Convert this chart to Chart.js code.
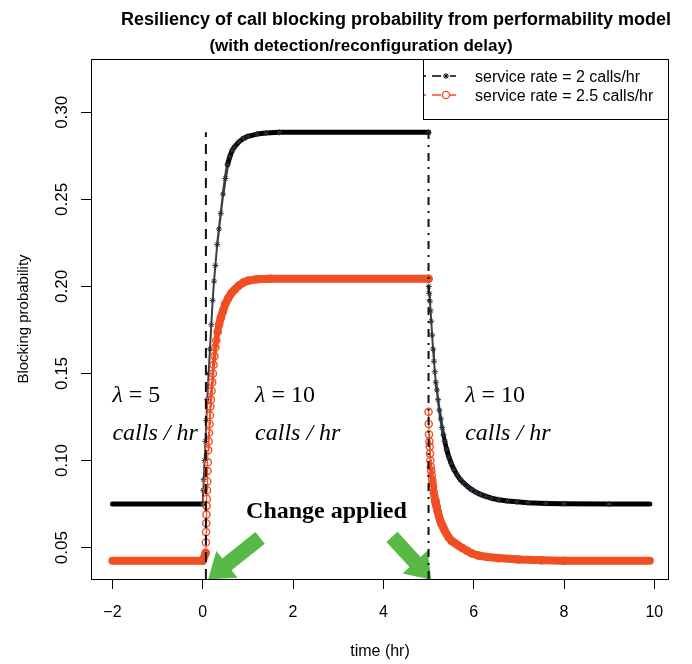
<!DOCTYPE html>
<html>
<head>
<meta charset="utf-8">
<title>Resiliency of call blocking probability</title>
<script src="https://cdn.jsdelivr.net/npm/chart.js@4.4.0/dist/chart.umd.min.js"></script>
<style>
  html, body { margin: 0; padding: 0; background: #fff; }
  #wrap { width: 692px; height: 664px; }
</style>
</head>
<body>
<div id="wrap"><canvas id="chart" width="692" height="664"></canvas></div>
<script>
// service rate = 2 calls/hr
const timeRate2 = [-2, -1.5, -1, -0.5, 0,
  0.01, 0.02, 0.04, 0.06, 0.08, 0.10, 0.13, 0.16, 0.19, 0.22, 0.25, 0.28,
  0.32, 0.36, 0.40, 0.45, 0.50, 0.55, 0.60, 0.65, 0.70,
  0.80, 0.90, 1.00, 1.20, 1.40, 1.70, 2.5, 3.5, 4.5, 5.0,
  5.005, 5.015, 5.03, 5.045, 5.06, 5.08, 5.10, 5.12, 5.14, 5.16, 5.185, 5.21,
  5.24, 5.27, 5.30, 5.33, 5.36, 5.40, 5.45, 5.50, 5.56, 5.63, 5.70, 5.78, 5.87, 5.95,
  6.05, 6.15, 6.27, 6.39, 6.55, 6.75, 6.95, 7.2, 7.6, 8.0, 9.0, 9.9];
const blockRate2 = [0.075, 0.075, 0.075, 0.075, 0.075,
  0.083, 0.089, 0.100, 0.111, 0.123, 0.135, 0.150, 0.164, 0.178, 0.192, 0.203, 0.212,
  0.224, 0.233, 0.242, 0.253, 0.262, 0.270, 0.2745, 0.278, 0.280,
  0.283, 0.285, 0.2862, 0.2875, 0.2881, 0.2885, 0.2885, 0.2885, 0.2885, 0.2885,
  0.200, 0.196, 0.1915, 0.186, 0.180, 0.172, 0.164, 0.157, 0.151, 0.145, 0.1405, 0.135,
  0.129, 0.124, 0.119, 0.1148, 0.111, 0.1065, 0.102, 0.0985, 0.095, 0.0918, 0.0892, 0.087, 0.085, 0.0834,
  0.0818, 0.0806, 0.0794, 0.0784, 0.0775, 0.0768, 0.0763, 0.0758, 0.0754, 0.0752, 0.075, 0.075];

// service rate = 2.5 calls/hr
const timeRate25 = [-2, -1.5, -1, -0.5, 0,
  0.066, 0.070, 0.074, 0.078, 0.082, 0.086, 0.090, 0.095, 0.100, 0.106, 0.112, 0.120,
  0.130, 0.140, 0.150, 0.160, 0.170, 0.180, 0.195, 0.21, 0.225, 0.24, 0.26, 0.28, 0.30,
  0.33, 0.36, 0.40, 0.45, 0.50, 0.56, 0.63, 0.70, 0.80, 0.90, 1.00, 1.20, 1.50,
  2.5, 3.5, 4.5, 5.0,
  5.0, 5.004, 5.010, 5.018, 5.025, 5.032, 5.040, 5.050, 5.060, 5.070, 5.080, 5.090, 5.100,
  5.115, 5.130, 5.145, 5.160, 5.180, 5.20, 5.23, 5.26, 5.29, 5.32, 5.36, 5.40, 5.45, 5.51, 5.58,
  5.66, 5.75, 5.85, 5.95, 6.10, 6.30, 6.54, 7.00, 7.50, 8.00, 9.00, 9.90];
const blockRate25 = [0.0425, 0.0425, 0.0425, 0.0425, 0.0425,
  0.047, 0.053, 0.059, 0.064, 0.069, 0.074, 0.078, 0.083, 0.088, 0.094, 0.099, 0.106,
  0.111, 0.116, 0.121, 0.126, 0.131, 0.135, 0.140, 0.145, 0.150, 0.155, 0.160, 0.165, 0.169,
  0.174, 0.178, 0.182, 0.186, 0.190, 0.193, 0.196, 0.198, 0.2005, 0.2023, 0.2033, 0.2041, 0.2044,
  0.2044, 0.2044, 0.2044, 0.2044,
  0.128, 0.121, 0.115, 0.111, 0.108, 0.104, 0.100, 0.0965, 0.094, 0.0915, 0.089, 0.087, 0.085,
  0.082, 0.0795, 0.077, 0.0755, 0.0735, 0.071, 0.068, 0.0655, 0.0635, 0.062, 0.0597, 0.0578, 0.0557, 0.0539, 0.0527,
  0.0512, 0.0498, 0.0482, 0.0468, 0.0455, 0.0446, 0.044, 0.0432, 0.0428, 0.0425, 0.0425, 0.0425];

const xTicks = [-2, 0, 2, 4, 6, 8, 10];
const yTicks = [0.05, 0.10, 0.15, 0.20, 0.25, 0.30];

// moments the new arrival rate is applied, drawn up to the upper plateau
const changeTimes = [0.07, 5];
const changeTop = 0.2885;

// arrival rate for each interval, labels anchored in data units
const arrivalRates = ['5', '10', '10'];
const rateLabelX = [-2.0, 1.16, 5.81];
const rateLabelY = [0.1336, 0.1118];

const X_MIN = -2.474, X_MAX = 10.324;
const Y_MIN = 0.032, Y_MAX = 0.3306;

const RED = '#f04e23';
const GREEN = '#58b947';
const SANS = "'Liberation Sans', Arial, sans-serif";
const SERIF = "'Liberation Serif', 'Times New Roman', serif";

function toPoints(xs, ys) {
  return xs.map((x, i) => ({ x: x, y: ys[i] }));
}

// markers sitting on a flat stretch are hidden by the thick band anyway
function onFlat(ys, i) {
  const p = ys[i - 1], n = ys[i + 1];
  return (p === undefined || p === ys[i]) && (n === undefined || n === ys[i]);
}

function slope(ctx) {
  const dx = Math.abs(ctx.p1.x - ctx.p0.x);
  const dy = Math.abs(ctx.p1.y - ctx.p0.y);
  return { dx: dx, dy: dy };
}

// dense markers merge into a band where the curve is flat; on steep parts
// only the individual markers show, so the stroke thins out there
function bandWidth(full, k, thin) {
  return ctx => {
    const s = slope(ctx);
    if (s.dy === 0) return full;
    return Math.max(thin, Math.min(full, full * k * s.dx / s.dy));
  };
}

function isJump(ctx) {
  const s = slope(ctx);
  return s.dx < 1 && s.dy > 40;
}

const datasets = [
  {
    label: 'change0',
    data: [{ x: changeTimes[0], y: Y_MIN }, { x: changeTimes[0], y: changeTop }],
    borderColor: '#111', borderWidth: 2, borderDash: [10, 7],
    pointRadius: 0, showLine: true
  },
  {
    label: 'change1',
    data: [{ x: changeTimes[1], y: Y_MIN }, { x: changeTimes[1], y: changeTop }],
    borderColor: '#111', borderWidth: 2, borderDash: [8, 6, 2, 6],
    pointRadius: 0, showLine: true
  },
  {
    label: 'service rate = 2.5 calls/hr',
    data: toPoints(timeRate25, blockRate25),
    showLine: true,
    borderColor: RED,
    borderWidth: 8,
    borderCapStyle: 'round',
    borderJoinStyle: 'round',
    pointStyle: 'circle',
    pointRadius: ctx => onFlat(blockRate25, ctx.dataIndex) ? 0 : 3.6,
    pointBorderWidth: 1.4,
    pointBorderColor: RED,
    pointBackgroundColor: 'rgba(255,255,255,0)',
    segment: {
      borderWidth: bandWidth(8, 4.5, 1.2),
      borderColor: ctx => isJump(ctx) ? 'rgba(0,0,0,0)' : RED
    }
  },
  {
    label: 'service rate = 2 calls/hr',
    data: toPoints(timeRate2, blockRate2),
    showLine: true,
    borderColor: '#000',
    borderWidth: 5,
    borderCapStyle: 'round',
    borderJoinStyle: 'round',
    pointStyle: 'star',
    pointRadius: ctx => onFlat(blockRate2, ctx.dataIndex) ? 0 : 3,
    pointBorderWidth: 1,
    pointBorderColor: '#2a2f3a',
    pointBackgroundColor: '#2a2f3a',
    segment: {
      borderWidth: bandWidth(5, 4, 2),
      borderColor: ctx => {
        if (isJump(ctx)) return 'rgba(0,0,0,0)';
        const s = slope(ctx);
        return s.dy > 5 * s.dx ? '#3a3f48' : '#000';
      }
    }
  }
];

function drawArrow(ctx, x0, y0, x1, y1, shaftW, headW, headL) {
  const ang = Math.atan2(y1 - y0, x1 - x0);
  const len = Math.hypot(x1 - x0, y1 - y0);
  ctx.save();
  ctx.translate(x0, y0);
  ctx.rotate(ang);
  ctx.beginPath();
  ctx.moveTo(0, -shaftW / 2);
  ctx.lineTo(len - headL, -shaftW / 2);
  ctx.lineTo(len - headL, -headW / 2);
  ctx.lineTo(len, 0);
  ctx.lineTo(len - headL, headW / 2);
  ctx.lineTo(len - headL, shaftW / 2);
  ctx.lineTo(0, shaftW / 2);
  ctx.closePath();
  ctx.fill();
  ctx.restore();
}

// arrows pointing at the two change instants (data units: tail -> tip)
const arrows = [
  { from: [1.27, 0.0556], to: [0.12, 0.0318] },
  { from: [4.19, 0.0562], to: [5.06, 0.0316] }
];

const decorPlugin = {
  id: 'decor',
  beforeDatasetsDraw(chart) {
    const { ctx, chartArea: a, scales: { x, y } } = chart;
    ctx.save();
    ctx.beginPath();
    ctx.rect(a.left, a.top, a.right - a.left, a.bottom - a.top);
    ctx.clip();
    ctx.fillStyle = GREEN;
    arrows.forEach(ar => {
      drawArrow(ctx,
        x.getPixelForValue(ar.from[0]), y.getPixelForValue(ar.from[1]),
        x.getPixelForValue(ar.to[0]), y.getPixelForValue(ar.to[1]),
        15, 34, 24);
    });
    ctx.restore();
  },
  afterDraw(chart) {
    const { ctx, chartArea: a, scales: { x, y } } = chart;
    ctx.save();

    // plot frame
    ctx.strokeStyle = '#000';
    ctx.lineWidth = 1;
    ctx.strokeRect(a.left + 0.5, a.top + 0.5, a.right - a.left - 1, a.bottom - a.top);

    // titles
    ctx.fillStyle = '#000';
    ctx.textAlign = 'center';
    ctx.textBaseline = 'alphabetic';
    ctx.font = 'bold 18px ' + SANS;
    ctx.fillText('Resiliency of call blocking probability from performability model', 396, 25);
    ctx.font = 'bold 17px ' + SANS;
    ctx.fillText('(with detection/reconfiguration delay)', 361, 51);

    // y tick labels, rotated like the axis title
    ctx.font = '17px ' + SANS;
    ctx.textBaseline = 'middle';
    yTicks.forEach(v => {
      ctx.save();
      ctx.translate(62, y.getPixelForValue(v));
      ctx.rotate(-Math.PI / 2);
      ctx.fillText(v.toFixed(2), 0, 0);
      ctx.restore();
    });

    // axis titles
    ctx.font = '15px ' + SANS;
    ctx.save();
    ctx.translate(24, (a.top + a.bottom) / 2);
    ctx.rotate(-Math.PI / 2);
    ctx.fillText('Blocking probability', 0, 0);
    ctx.restore();
    ctx.font = '16px ' + SANS;
    ctx.fillText('time (hr)', (a.left + a.right) / 2, 652);

    // arrival rate labels
    ctx.textAlign = 'left';
    ctx.textBaseline = 'alphabetic';
    arrivalRates.forEach((r, i) => {
      const px = x.getPixelForValue(rateLabelX[i]);
      const py1 = y.getPixelForValue(rateLabelY[0]);
      const py2 = y.getPixelForValue(rateLabelY[1]);
      ctx.font = 'italic 24px ' + SERIF;
      ctx.fillText('\u03bb', px, py1);
      const w = ctx.measureText('\u03bb').width;
      ctx.font = '24px ' + SERIF;
      ctx.fillText(' = ' + r, px + w, py1);
      ctx.font = 'italic 24px ' + SERIF;
      ctx.fillText('calls / hr', px, py2);
    });

    ctx.font = 'bold 24px ' + SERIF;
    ctx.fillText('Change applied', x.getPixelForValue(0.96), y.getPixelForValue(0.067));

    // legend box in the top-right corner
    const lw = 246, lh = 60;
    const lx = a.right - lw, ly = a.top;
    ctx.fillStyle = '#fff';
    ctx.fillRect(lx, ly, lw, lh);
    ctx.strokeStyle = '#000';
    ctx.strokeRect(lx + 0.5, ly + 0.5, lw - 1, lh);

    const rows = [
      { label: 'service rate = 2 calls/hr', color: '#000', star: true, y: ly + 17 },
      { label: 'service rate = 2.5 calls/hr', color: RED, star: false, y: ly + 36 }
    ];
    rows.forEach(row => {
      ctx.strokeStyle = row.color;
      ctx.lineWidth = 1.5;
      ctx.beginPath();
      ctx.moveTo(lx + 1, row.y); ctx.lineTo(lx + 3, row.y);
      ctx.moveTo(lx + 9, row.y); ctx.lineTo(lx + 18, row.y);
      ctx.moveTo(lx + 27, row.y); ctx.lineTo(lx + 33, row.y);
      ctx.stroke();
      const mx = lx + 23;
      if (row.star) {
        ctx.lineWidth = 1;
        ctx.beginPath();
        for (let k = 0; k < 4; k++) {
          const t = k * Math.PI / 4;
          ctx.moveTo(mx - 3 * Math.cos(t), row.y - 3 * Math.sin(t));
          ctx.lineTo(mx + 3 * Math.cos(t), row.y + 3 * Math.sin(t));
        }
        ctx.stroke();
      } else {
        ctx.fillStyle = '#fff';
        ctx.beginPath();
        ctx.arc(mx, row.y, 3.6, 0, Math.PI * 2);
        ctx.fill();
        ctx.lineWidth = 1.4;
        ctx.stroke();
      }
      ctx.fillStyle = '#000';
      ctx.font = '16px ' + SANS;
      ctx.textBaseline = 'middle';
      ctx.fillText(row.label, lx + 52, row.y + 2);
    });

    ctx.restore();
  }
};

new Chart(document.getElementById('chart'), {
  type: 'scatter',
  data: { datasets: datasets },
  options: {
    responsive: false,
    animation: false,
    layout: { padding: { top: 59, right: 23, left: 0, bottom: 0 } },
    plugins: {
      legend: { display: false },
      tooltip: { enabled: false },
      title: { display: false }
    },
    scales: {
      x: {
        type: 'linear',
        min: X_MIN,
        max: X_MAX,
        afterBuildTicks: s => { s.ticks = xTicks.map(v => ({ value: v })); },
        afterFit: s => { s.height = 85; },
        border: { display: false },
        grid: { drawOnChartArea: false, drawTicks: true, tickLength: 10, color: '#000', lineWidth: 1 },
        ticks: {
          autoSkip: false,
          maxRotation: 0,
          padding: 14,
          color: '#000',
          font: { size: 16, family: SANS },
          callback: v => v < 0 ? '\u2212' + Math.abs(v) : String(v)
        }
      },
      y: {
        type: 'linear',
        min: Y_MIN,
        max: Y_MAX,
        afterBuildTicks: s => { s.ticks = yTicks.map(v => ({ value: v })); },
        afterFit: s => { s.width = 91; },
        border: { display: false },
        grid: { drawOnChartArea: false, drawTicks: true, tickLength: 10, color: '#000', lineWidth: 1 },
        ticks: { display: false }
      }
    }
  },
  plugins: [decorPlugin]
});
</script>
</body>
</html>
